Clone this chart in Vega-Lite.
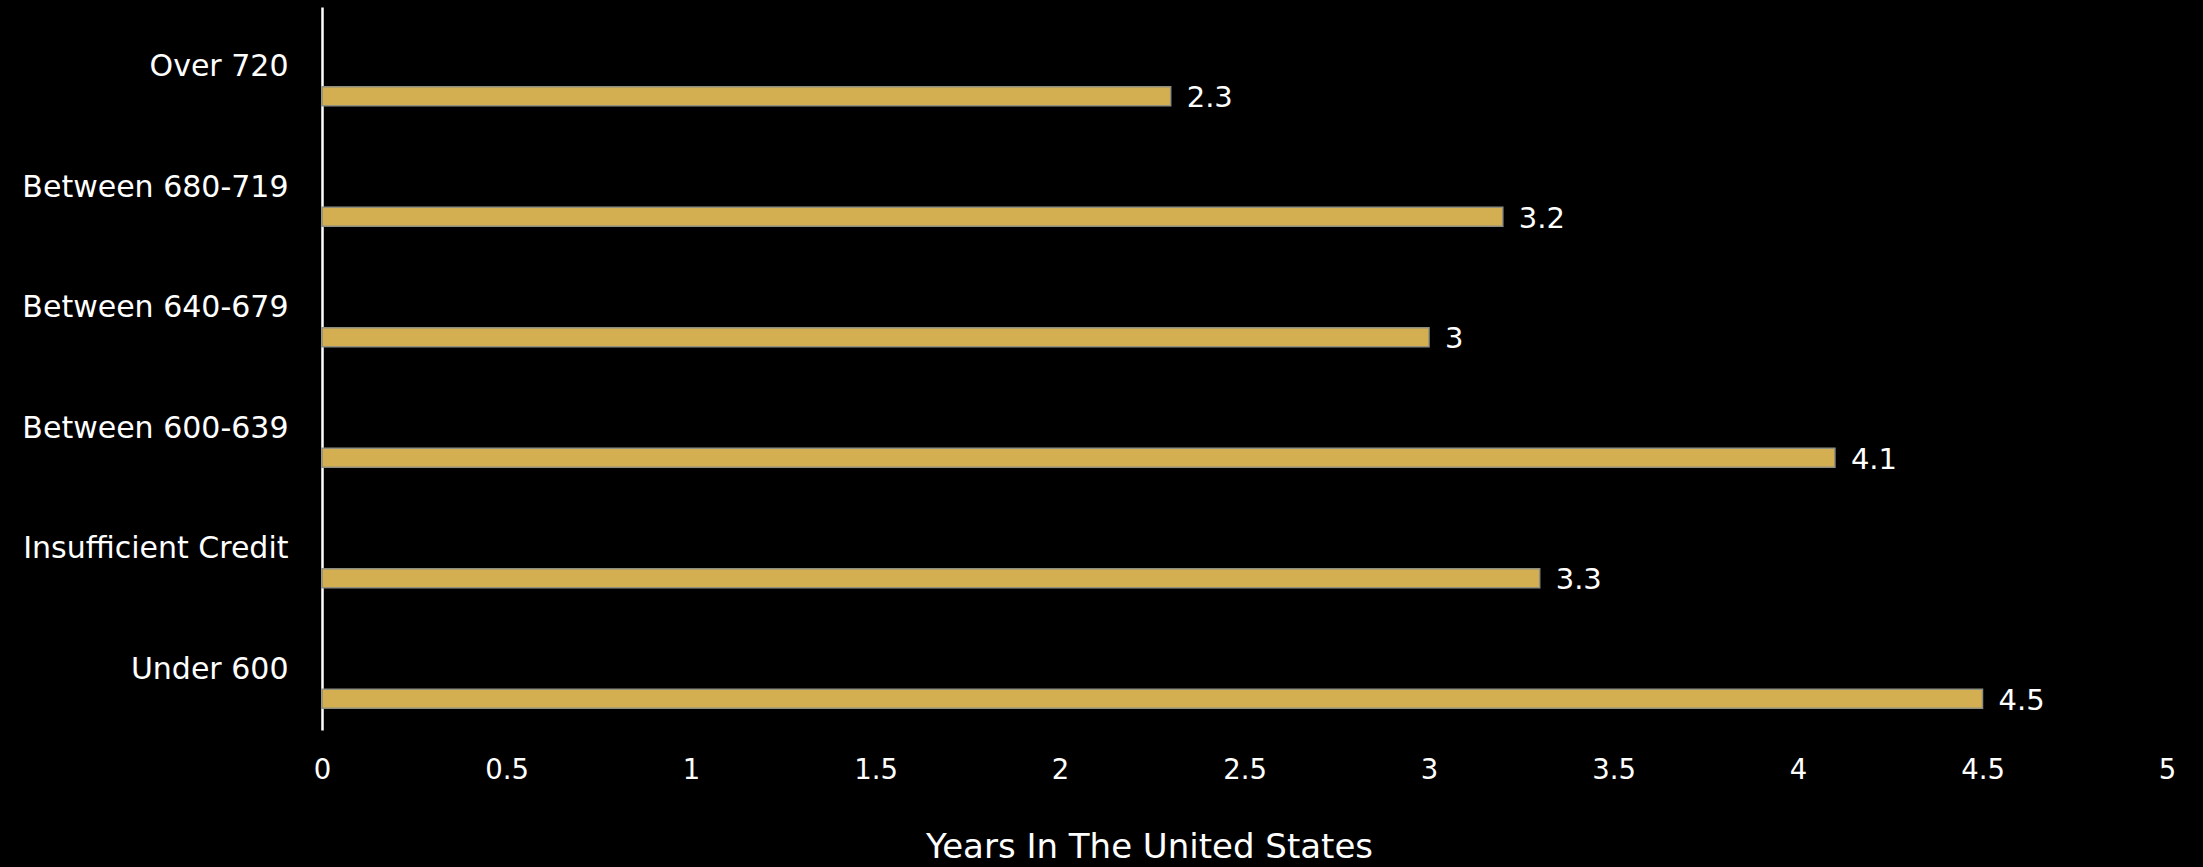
{
  "$schema": "https://vega.github.io/schema/vega-lite/v6.json",
  "width": 1845,
  "height": 723,
  "autosize": {"type": "none"},
  "padding": {"left": 322, "top": 7, "right": 36, "bottom": 137},
  "background": "#000000",
  "config": {
    "view": {"stroke": null},
    "font": "DejaVu Sans"
  },
  "data": {
    "values": [
      {"band": "Over 720", "years": 2.3},
      {"band": "Between 680-719", "years": 3.2},
      {"band": "Between 640-679", "years": 3},
      {"band": "Between 600-639", "years": 4.1},
      {"band": "Insufficient Credit", "years": 3.3},
      {"band": "Under 600", "years": 4.5}
    ]
  },
  "encoding": {
    "y": {
      "field": "band",
      "type": "nominal",
      "sort": null,
      "scale": {"paddingInner": 0, "paddingOuter": 0},
      "axis": {
        "title": null,
        "domainColor": "#ffffff",
        "domainWidth": 2.5,
        "ticks": false,
        "grid": false,
        "labelColor": "#ffffff",
        "labelFontSize": 30,
        "labelPadding": 34,
        "labelLimit": 0
      }
    },
    "x": {
      "field": "years",
      "type": "quantitative",
      "scale": {"domain": [0, 5]},
      "axis": {
        "title": "Years In The United States",
        "titleColor": "#ffffff",
        "titleFontSize": 34,
        "titleFontWeight": "normal",
        "titleX": 827,
        "titleY": 117,
        "titleBaseline": "middle",
        "values": [0, 0.5, 1, 1.5, 2, 2.5, 3, 3.5, 4, 4.5, 5],
        "labelExpr": "datum.value",
        "domain": false,
        "ticks": false,
        "grid": false,
        "labelColor": "#ffffff",
        "labelFontSize": 27.5,
        "labelPadding": 40,
        "labelBaseline": "middle",
        "labelFlush": false
      }
    }
  },
  "layer": [
    {
      "mark": {
        "type": "bar",
        "height": 19,
        "yOffset": 29,
        "fill": "#d3af52",
        "stroke": "#8f8f80",
        "strokeWidth": 1.5
      }
    },
    {
      "mark": {
        "type": "text",
        "align": "left",
        "baseline": "middle",
        "dx": 16,
        "dy": 31,
        "fontSize": 29,
        "color": "#ffffff"
      },
      "encoding": {
        "text": {"field": "years", "type": "quantitative"}
      }
    }
  ]
}
